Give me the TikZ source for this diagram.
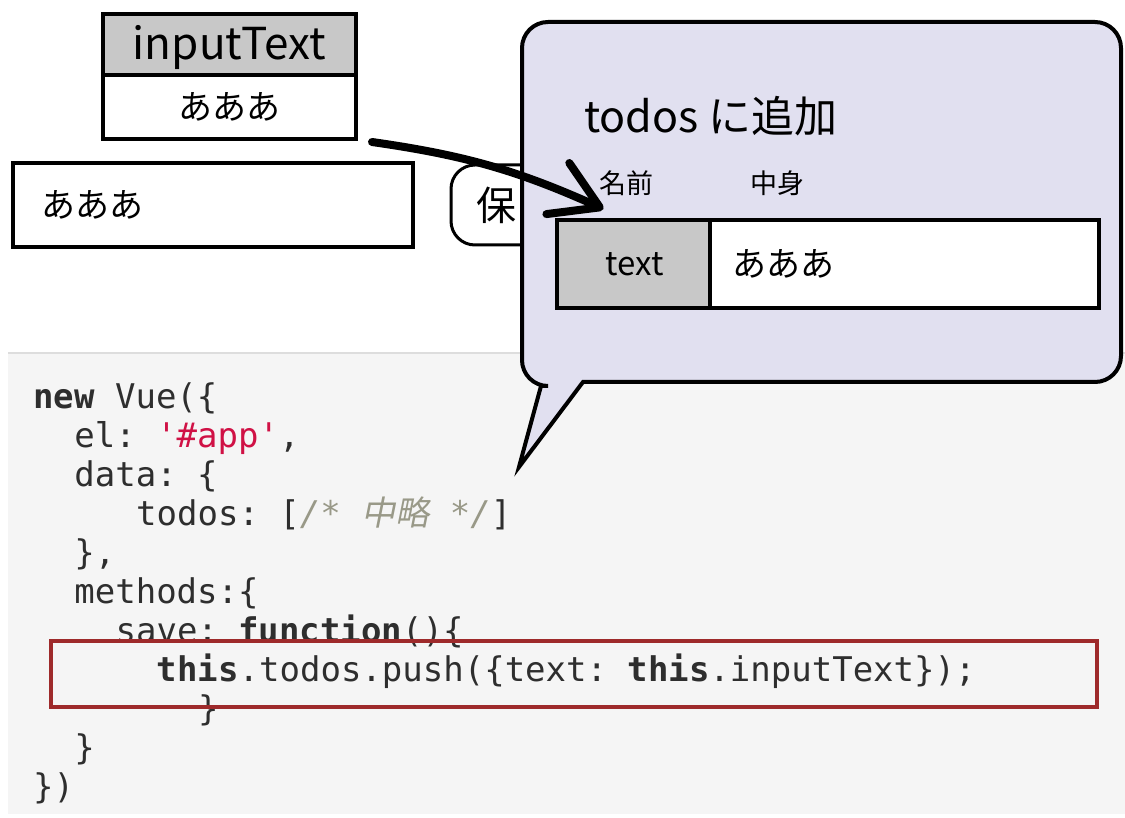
\documentclass[tikz,border=0pt]{standalone}
\usepackage{fontspec}
\setmainfont{Noto Sans CJK JP}
\newfontfamily\codefont{DejaVu Sans Mono}
\newfontfamily\cjkslant{Noto Sans CJK JP}[FakeSlant=0.2]
\usetikzlibrary{arrows.meta}
\definecolor{bubblefill}{HTML}{E1E0F0}
\definecolor{cellgray}{HTML}{C8C8C8}
\definecolor{codebg}{HTML}{F5F5F5}
\definecolor{codeline}{HTML}{DDDDDD}
\definecolor{codetext}{HTML}{2E2E2E}
\definecolor{codestr}{HTML}{D01145}
\definecolor{codecmt}{HTML}{999988}
\definecolor{hlred}{HTML}{9E2A2B}
\frenchspacing
\tikzset{
  box/.style={draw=black, line width=4pt, inner sep=0pt, anchor=north west},
  codeln/.style={anchor=base west, inner sep=0pt, text=codetext, font=\codefont\fontsize{34}{39}\selectfont},
  lbl/.style={inner sep=0pt, text=black},
  bigarrow/.style={line width=8pt, line cap=round, -{Straight Barb[length=46pt,width=56pt,round]}},
}
\newcommand{\kw}[1]{\textbf{#1}}
\begin{document}
\begin{tikzpicture}[x=1pt,y=-1pt]
\useasboundingbox (0,0) rectangle (1125,818);
% code background
\fill[codebg] (8,353) rectangle (1125,814);
\draw[codeline, line width=1.5pt] (8,353) -- (1125,353);

% inputText variable box
\node[box, fill=cellgray, minimum width=253pt, minimum height=62pt] (ith) at (101,12) {};
\node[lbl, font=\fontsize{44}{44}\selectfont] at ([yshift=-2pt]ith.center) {inputText};
\node[box, fill=white, minimum width=253pt, minimum height=64pt] (itv) at (101,73) {};
\node[lbl, font=\fontsize{34}{34}\selectfont] at (itv.center) {あああ};

% input field
\node[box, fill=white, minimum width=400pt, minimum height=84pt] (inp) at (11,161) {};
\node[lbl, anchor=west, font=\fontsize{34}{34}\selectfont] at ([xshift=30pt]inp.west) {あああ};

% button (mostly hidden)
\draw[black, line width=3pt, fill=white, rounded corners=24pt] (451,165) rectangle (600,245);
\node[lbl, anchor=west, font=\fontsize{40}{40}\selectfont] (btn) at (476,205) {保};

% speech bubble
\draw[black, line width=4pt, fill=bubblefill, line join=miter]
  (519,467) -- (541,386) [rounded corners=26pt] -- (522,386) -- (522,22) -- (1121,22) -- (1121,382) [sharp corners] -- (583,382) -- cycle;

\node[lbl, anchor=base west, font=\fontsize{43}{43}\selectfont] (title) at (584,133) {todos に追加};
\node[lbl, font=\fontsize{27}{27}\selectfont] (hname) at (626,183) {名前};
\node[lbl, font=\fontsize{27}{27}\selectfont] (hval) at (777,183) {中身};

\node[box, fill=cellgray, minimum width=155pt, minimum height=88pt] (tname) at (555,218) {};
\node[lbl, font=\fontsize{33}{33}\selectfont] at (tname.center) {text};
\node[box, fill=white, minimum width=389pt, minimum height=88pt] (tval) at (708,218) {};
\node[lbl, anchor=west, font=\fontsize{34}{34}\selectfont] at ([xshift=24pt]tval.west) {あああ};

% code
\node[codeln] (c0) at (33,408) {\kw{new} Vue(\{};
\node[codeln] (c1) at (74.2,447) {el: \textcolor{codestr}{'\#app'},};
\node[codeln] (c2) at (74.2,486) {data: \{};
\node[codeln] (c3) at (136,525) {todos: [\textcolor{codecmt}{\itshape /* {\cjkslant 中略} */}]};
\node[codeln] (c4) at (74.2,564) {\},};
\node[codeln] (c5) at (74.2,603) {methods:\{};
\node[codeln] (c6) at (115.4,642) {save: \kw{function}()\{};
\node[codeln] (c7) at (156.6,681) {\kw{this}.todos.push(\{text: \kw{this}.inputText\});};
\node[codeln] (c8) at (197.8,720) {\}};
\node[codeln] (c9) at (74.2,759) {\}};
\node[codeln] (c10) at (33,798) {\})};

% highlight box
\node[draw=hlred, line width=4pt, inner sep=0pt, anchor=north west, minimum width=1046pt, minimum height=66pt] (hl) at (49,639) {};

% arrow
\coordinate (as) at ([xshift=14pt,yshift=-1pt]itv.south east);
\coordinate (ae) at ([xshift=-31pt,yshift=9pt]tname.north);
\draw[bigarrow] (as) to[bend left=8] (ae);
\end{tikzpicture}
\end{document}
